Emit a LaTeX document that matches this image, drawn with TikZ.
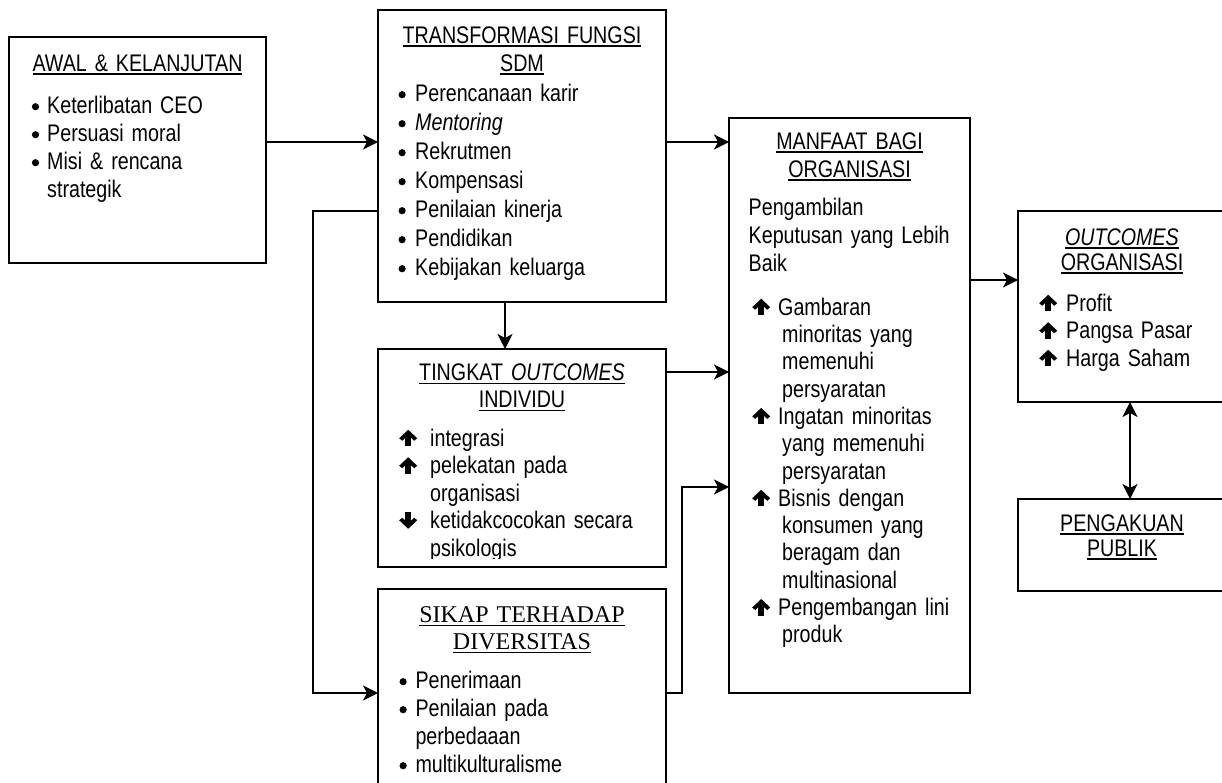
\documentclass[tikz,border=0pt]{standalone}
\usepackage{fontspec}
\setmainfont{Liberation Sans}[FakeStretch=0.82]
\newfontfamily\serif{Liberation Serif}
\usetikzlibrary{positioning, arrows.meta}

% underlined title text
\newsavebox{\garisbox}
\newcommand{\garis}[1]{\leavevmode\sbox\garisbox{#1}\rlap{\rule[-3.6pt]{\wd\garisbox}{1.6pt}}\usebox\garisbox}
% glyphs for the lists
\newcommand{\titik}{\tikz[baseline=0pt]\fill (0,6.5pt) circle (3.6pt);}
\newcommand{\naik}{\tikz[x=1pt,y=1pt,baseline=0pt]{\fill (-3,0) rectangle (3,11);
  \fill (0,16.5) -- (9,8) -- (6,5.5) -- (0,11) -- (-6,5.5) -- (-9,8) -- cycle;}}
\newcommand{\turun}{\tikz[x=1pt,y=1pt,baseline=0pt]{\fill (-3,5.5) rectangle (3,16.5);
  \fill (0,0) -- (9,8.5) -- (6,11) -- (0,5.5) -- (-6,11) -- (-9,8.5) -- cycle;}}
% item: first width, hanging indent, glyph, text
\newcommand{\butir}[4]{\noindent\hangindent=#2\hangafter=1\makebox[#1][l]{\strut#3}#4\par}

\tikzset{
  kotak/.style={draw, line width=2pt, inner sep=0pt, outer sep=0pt},
  judul/.style={inner sep=0pt, align=center, text width=250pt},
  isi/.style={inner sep=0pt, align=left, text width=260pt},
  >={Stealth[length=15pt, width=15pt, inset=4pt]},
  panah/.style={line width=2pt, ->},
  panahdua/.style={line width=2pt, <->},
}

\begin{document}
\begin{tikzpicture}[x=1pt, y=-1pt, font=\fontsize{24}{28}\selectfont]
\useasboundingbox (0,0) rectangle (1222,783);
\clip (0,0) rectangle (1222,783);

% boxes
\node[kotak, minimum width=257pt, minimum height=226pt] (awal) at (137.5,150) {};
\node[kotak, minimum width=288pt, minimum height=292pt] (trans) at (522,156) {};
\node[kotak, minimum width=288pt, minimum height=218pt] (tingkat) at (522,458) {};
\node[kotak, minimum width=288pt, minimum height=221pt] (sikap) at (522,699.5) {};
\node[kotak, minimum width=241pt, minimum height=575pt] (manfaat) at (849.5,405.5) {};
\node[kotak, minimum width=208pt, minimum height=191pt] (outorg) at (1122,306.5) {};
\node[kotak, minimum width=208pt, minimum height=92pt] (publik) at (1122,545) {};

% AWAL & KELANJUTAN
\node[judul, below=14.4pt of awal.north] {\strut\garis{AWAL \& KELANJUTAN}};
\node[isi, below right=56.4pt and 22.7pt of awal.north west] {%
  \butir{15.3pt}{15.3pt}{\titik}{Keterlibatan CEO}
  \butir{15.3pt}{15.3pt}{\titik}{Persuasi moral}
  \butir{15.3pt}{15.3pt}{\titik}{Misi \& rencana\newline strategik}};

% TRANSFORMASI FUNGSI SDM
\node[judul, below=13.4pt of trans.north] {\strut\garis{TRANSFORMASI FUNGSI}\\\garis{SDM}};
\node[isi, font=\fontsize{24}{29}\selectfont, below right=70.7pt and 20.3pt of trans.north west] {%
  \butir{16.7pt}{16.7pt}{\titik}{Perencanaan karir}
  \butir{16.7pt}{16.7pt}{\titik}{\textit{Mentoring}}
  \butir{16.7pt}{16.7pt}{\titik}{Rekrutmen}
  \butir{16.7pt}{16.7pt}{\titik}{Kompensasi}
  \butir{16.7pt}{16.7pt}{\titik}{Penilaian kinerja}
  \butir{16.7pt}{16.7pt}{\titik}{Pendidikan}
  \butir{16.7pt}{16.7pt}{\titik}{Kebijakan keluarga}};

% TINGKAT OUTCOMES INDIVIDU
\node[judul, font=\fontsize{24}{27}\selectfont, below=12.6pt of tingkat.north]
  {\strut\garis{TINGKAT \textit{OUTCOMES}}\\\garis{INDIVIDU}};
\begin{scope}
\clip (378,349) rectangle (666,558);
\node[isi, font=\fontsize{24}{27.5}\selectfont, below right=77.8pt and 21pt of tingkat.north west] {%
  \butir{31pt}{31pt}{\naik}{integrasi}
  \butir{31pt}{31pt}{\naik}{pelekatan pada\newline organisasi}
  \butir{31pt}{31pt}{\turun}{ketidakcocokan secara\newline psikologis}};
\end{scope}

% SIKAP TERHADAP DIVERSITAS
\node[judul, font=\fontsize{24}{27}\serif, below=14.4pt of sikap.north]
  {\strut\garis{SIKAP TERHADAP}\\\garis{DIVERSITAS}};
\node[isi, below right=79.4pt and 21.3pt of sikap.north west] {%
  \butir{16pt}{16pt}{\titik}{Penerimaan}
  \butir{16pt}{16pt}{\titik}{Penilaian pada\newline perbedaaan}
  \butir{16pt}{16pt}{\titik}{multikulturalisme}};

% MANFAAT BAGI ORGANISASI
\node[judul, below=11.4pt of manfaat.north] {\strut\garis{MANFAAT BAGI}\\\garis{ORGANISASI}};
\node[isi, below right=77.4pt and 19.5pt of manfaat.north west]
  {\strut Pengambilan\newline Keputusan yang Lebih\newline Baik};
\node[isi, font=\fontsize{24}{27.3}\selectfont, below right=177.9pt and 23pt of manfaat.north west] {%
  \butir{26pt}{30pt}{\naik}{Gambaran\newline minoritas yang\newline memenuhi\newline persyaratan}
  \butir{26pt}{30pt}{\naik}{Ingatan minoritas\newline yang memenuhi\newline persyaratan}
  \butir{26pt}{30pt}{\naik}{Bisnis dengan\newline konsumen yang\newline beragam dan\newline multinasional}
  \butir{26pt}{30pt}{\naik}{Pengembangan lini\newline produk}};

% OUTCOMES ORGANISASI
\node[judul, font=\fontsize{24}{25}\selectfont, below=16.5pt of outorg.north]
  {\strut\garis{\textit{OUTCOMES}}\\\garis{ORGANISASI}};
\node[isi, font=\fontsize{24}{27.5}\selectfont, below right=80.8pt and 21pt of outorg.north west] {%
  \butir{27pt}{27pt}{\naik}{Profit}
  \butir{27pt}{27pt}{\naik}{Pangsa Pasar}
  \butir{27pt}{27pt}{\naik}{Harga Saham}};

% PENGAKUAN PUBLIK
\node[judul, font=\fontsize{24}{25}\selectfont, below=14.5pt of publik.north]
  {\strut\garis{PENGAKUAN}\\\garis{PUBLIK}};

% connectors
\coordinate (k1) at (0,142);
\coordinate (k2) at (505,0);
\coordinate (k3) at (0,372);
\coordinate (k4) at (313,211);
\coordinate (k5) at (313,693);
\coordinate (k6) at (682,693);
\coordinate (k7) at (682,487);
\coordinate (k8) at (0,280);
\coordinate (k9) at (1130,0);

\draw[panah] (awal.east |- k1) -- (trans.west |- k1);
\draw[panah] (trans.east |- k1) -- (manfaat.west |- k1);
\draw[panah] (trans.south -| k2) -- (tingkat.north -| k2);
\draw[panah] (tingkat.east |- k3) -- (manfaat.west |- k3);
\draw[panah] (trans.west |- k4) -- (k4) -- (k5) -- (sikap.west |- k5);
\draw[panah] (sikap.east |- k6) -- (k6) -- (k7) -- (manfaat.west |- k7);
\draw[panah] (manfaat.east |- k8) -- (outorg.west |- k8);
\draw[panahdua] (outorg.south -| k9) -- (publik.north -| k9);
\end{tikzpicture}
\end{document}
